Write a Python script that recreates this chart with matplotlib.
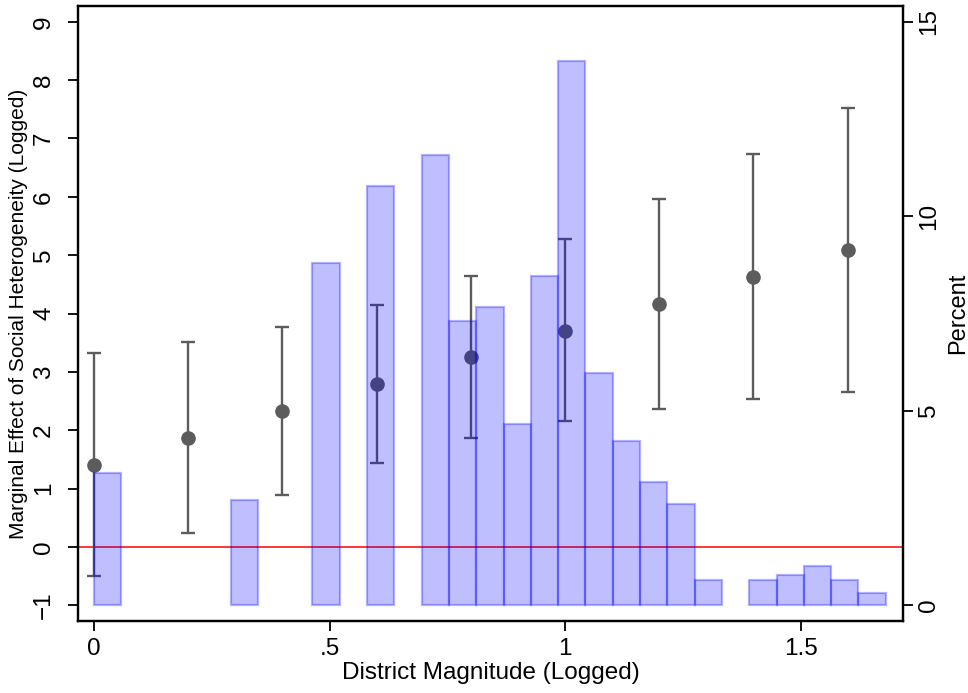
import numpy as np
import matplotlib
matplotlib.use("Agg")
import matplotlib.pyplot as plt

plt.rcParams['font.family'] = ['Liberation Sans', 'DejaVu Sans']

# Marginal effect estimates with 95% confidence bounds
magnitude = [0.0, 0.2, 0.4, 0.6, 0.8, 1.0, 1.2, 1.4, 1.6]
effect = [1.41, 1.87, 2.33, 2.79, 3.25, 3.70, 4.17, 4.63, 5.09]
lower = [-0.50, 0.23, 0.89, 1.44, 1.86, 2.16, 2.37, 2.53, 2.65]
upper = [3.33, 3.51, 3.77, 4.14, 4.64, 5.27, 5.97, 6.73, 7.53]

# Distribution of district magnitude (percent of observations per bin)
hist_range = (0.0, 1.681)
hist_pct = [3.41, 0, 0, 0, 0, 2.71, 0, 0, 8.81, 0, 10.77, 0, 11.57, 7.31,
            7.66, 4.66, 8.47, 13.99, 5.96, 4.23, 3.17, 2.61, 0.65, 0, 0.65,
            0.78, 1.01, 0.65, 0.32]

x_ticks = [0, 0.5, 1.0, 1.5]
x_ticklabels = ["0", ".5", "1", "1.5"]
left_ticks = list(range(-1, 10))
right_ticks = [0, 5, 10, 15]

fig = plt.figure(figsize=(9.68, 6.93), dpi=100)
ax = fig.add_axes([78 / 968, 1 - 621 / 693, 825 / 968, 615 / 693])
ax2 = ax.twinx()

ylo, yhi = -1.27, 9.27
ax.set_xlim(-0.034, 1.7176)
ax.set_ylim(ylo, yhi)
# percent axis: 0% sits at -1, 15% sits at 9
ax2.set_ylim((ylo + 1) * 1.5, (yhi + 1) * 1.5)

gray = '#5c5c5c'
ax.axhline(0, color='red', lw=1.1, zorder=1)
eff = np.array(effect)
ax.errorbar(magnitude, eff, yerr=[eff - np.array(lower), np.array(upper) - eff],
            fmt='o', color=gray, ms=9.5, capsize=4.8, elinewidth=1.7,
            capthick=1.7, zorder=2)

edges = np.linspace(hist_range[0], hist_range[1], len(hist_pct) + 1)
pct = np.array(hist_pct, dtype=float)
keep = pct > 0
ax2.bar(edges[:-1][keep], pct[keep], width=np.diff(edges)[keep], align='edge',
        facecolor=(0, 0, 1, 0.25), edgecolor=(0, 0, 1, 0.3), linewidth=1.6)

ax.set_xticks(x_ticks)
ax.set_xticklabels(x_ticklabels)
ax.set_yticks(left_ticks)
ax2.set_yticks(right_ticks)

fs_tick = 17.5
ax.tick_params(axis='x', direction='out', length=7.5, width=1.3,
               labelsize=fs_tick, pad=5)
ax.tick_params(axis='y', direction='out', length=7.5, width=1.3,
               labelsize=fs_tick, pad=9, labelrotation=90)
ax2.tick_params(axis='y', direction='out', length=7.5, width=1.3,
                labelsize=fs_tick, pad=3.5, labelrotation=90)
for lab in ax.get_yticklabels():
    lab.set_va('center')
for lab in ax2.get_yticklabels():
    lab.set_va('center')

for a in (ax, ax2):
    for sp in a.spines.values():
        sp.set_linewidth(1.6)
        sp.set_color('black')

ax.set_xlabel("District Magnitude (Logged)", fontsize=17.5, labelpad=1)
ax.set_ylabel("Marginal Effect of Social Heterogeneity (Logged)", fontsize=15,
              labelpad=4)
ax2.set_ylabel("Percent", fontsize=17, labelpad=5)

fig.savefig("out.png", dpi=100)
